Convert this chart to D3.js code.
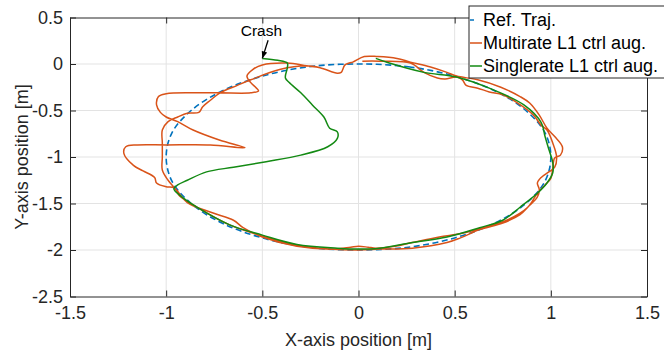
<!DOCTYPE html>
<html>
<head>
<meta charset="utf-8">
<script src="https://cdn.jsdelivr.net/npm/d3@7"></script>
<style>
  body { margin: 0; background: #fff; }
  svg { display: block; font-family: "Liberation Sans", Arial, sans-serif; }
  .tick text { fill: #262626; }
</style>
</head>
<body>
<svg id="chart" width="664" height="352"></svg>
<script>
// ---- data (metres) ----
const xTicks = [-1.5, -1, -0.5, 0, 0.5, 1, 1.5];
const yTicks = [0.5, 0, -0.5, -1, -1.5, -2, -2.5];
const seriesNames = ["Ref. Traj.", "Multirate L1 ctrl aug.", "Singlerate L1 ctrl aug."];
const seriesColors = ["#0072BD", "#D95319", "#138a13"];

// reference circle, clockwise from the top
const refX = [0, 0.26, 0.5, 0.71, 0.87, 0.97, 1, 0.97, 0.87, 0.71, 0.5, 0.26, 0,
  -0.26, -0.5, -0.71, -0.87, -0.97, -1, -0.97, -0.87, -0.71, -0.5, -0.26];
const refY = [0, -0.03, -0.13, -0.29, -0.5, -0.74, -1, -1.26, -1.5, -1.71, -1.87, -1.97, -2,
  -1.97, -1.87, -1.71, -1.5, -1.26, -1, -0.74, -0.5, -0.29, -0.13, -0.03];

// multirate run (two laps, wild on the left in lap 2)
const multiX = [0.02, 0.11, 0.27, 0.34, 0.41, 0.45, 0.51, 0.54, 0.56, 0.62, 0.68, 0.75, 0.82, 0.91, 0.95,
  0.98, 1.01, 1.03, 1.02, 0.99, 0.95, 0.93, 0.94, 0.93, 0.88,
  0.84, 0.75, 0.63, 0.53, 0.46, 0.28, 0.11, 0.0, -0.15, -0.32, -0.5, -0.67, -0.84, -0.93, -0.95,
  -0.99, -1.02, -1.02, -1.02, -1.02, -0.99, -0.94, -0.89, -0.83, -0.81, -0.77, -0.72, -0.63, -0.56, -0.41,
  -0.27, -0.2, -0.11, -0.09, -0.07, -0.03, 0.03, 0.1, 0.2,
  0.27, 0.37, 0.46, 0.51, 0.62, 0.74, 0.84, 0.89, 0.94,
  0.98, 1.02, 1.06, 1.05, 1.02, 1.01, 1.0, 0.97, 0.93, 0.88,
  0.77, 0.68, 0.54, 0.42, 0.28, 0.19, 0.09, 0.05, 0.0, -0.04, -0.12, -0.32, -0.5,
  -0.6, -0.65, -0.76, -0.89, -0.96, -1.0, -1.05, -1.06, -1.12, -1.17, -1.22, -1.21, -1.15, -1.0, -0.77, -0.59,
  -0.72, -0.86, -0.94, -1.0, -1.03, -1.05, -1.04, -1.0, -0.86, -0.72, -0.56, -0.52,
  -0.53, -0.56, -0.58, -0.55, -0.5, -0.37, -0.27, -0.2, -0.11, -0.09, -0.07, -0.03];
const multiY = [0.03, 0.03, 0.01, -0.09, -0.15, -0.16, -0.14, -0.17, -0.23, -0.26, -0.3, -0.33, -0.41, -0.55, -0.66,
  -0.71, -0.85, -1.0, -1.11, -1.16, -1.22, -1.28, -1.35, -1.43, -1.54,
  -1.62, -1.71, -1.78, -1.87, -1.92, -1.98, -1.99, -2.0, -1.99, -1.95, -1.85, -1.73, -1.54, -1.42, -1.35,
  -1.25, -1.14, -1.0, -0.85, -0.71, -0.62, -0.57, -0.53, -0.52, -0.46, -0.39, -0.31, -0.23, -0.17, -0.06,
  -0.02, -0.04, -0.1, -0.09, -0.01, 0.02, 0.08, 0.08, 0.06,
  0.02, -0.03, -0.09, -0.13, -0.17, -0.25, -0.35, -0.42, -0.55,
  -0.69, -0.78, -0.89, -0.98, -1.01, -1.12, -1.23, -1.3, -1.39, -1.54,
  -1.68, -1.74, -1.82, -1.86, -1.92, -1.96, -1.98, -1.97, -1.96, -1.97, -1.99, -1.96, -1.86,
  -1.76, -1.68, -1.6, -1.49, -1.33, -1.32, -1.28, -1.22, -1.15, -1.09, -0.96, -0.89, -0.87, -0.87, -0.87, -0.9,
  -0.82, -0.71, -0.62, -0.57, -0.52, -0.44, -0.35, -0.32, -0.31, -0.31, -0.31, -0.29,
  -0.26, -0.2, -0.13, -0.06, -0.01, 0.01, -0.02, -0.04, -0.1, -0.09, -0.01, 0.02];

// singlerate run, ends in the crash
const singleX = [0.09, 0.16, 0.34, 0.51, 0.68, 0.86, 0.95, 0.97, 0.99, 1.01, 1.01, 0.98, 0.93, 0.84, 0.75,
  0.63, 0.46, 0.28, 0.11, 0.0, -0.11, -0.32, -0.5, -0.67, -0.84, -0.93, -0.96,
  -0.94, -0.89, -0.79, -0.65, -0.48, -0.3, -0.16, -0.11, -0.11, -0.15, -0.18, -0.24, -0.3, -0.36, -0.38,
  -0.37, -0.37, -0.42, -0.5];
const singleY = [0.06, 0.01, -0.09, -0.14, -0.26, -0.44, -0.63, -0.78, -0.92, -1.06, -1.17, -1.28, -1.39, -1.54, -1.68,
  -1.76, -1.86, -1.92, -1.98, -1.99, -1.98, -1.94, -1.84, -1.73, -1.54, -1.41, -1.34,
  -1.3, -1.25, -1.16, -1.11, -1.05, -0.98, -0.89, -0.8, -0.73, -0.69, -0.57, -0.44, -0.31, -0.2, -0.15,
  -0.04, 0.01, 0.04, 0.06];

const crashText = { x: -0.505, y: 0.3, label: "Crash" };
const crashArrow = { x1: -0.47, y1: 0.255, x2: -0.5, y2: 0.06 };

// ---- layout ----
const svg = d3.select("#chart");
const mLeft = 70, mRight = 647, mTop = 17.5, mBottom = 296.5;
const x = d3.scaleLinear().domain([-1.5, 1.5]).range([mLeft, mRight]);
const y = d3.scaleLinear().domain([-2.5, 0.5]).range([mBottom, mTop]);
const axisColor = "#262626";

// grid
const grid = svg.append("g");
grid.selectAll(".gx").data(xTicks.slice(1, -1)).join("line")
  .attr("x1", d => x(d)).attr("x2", d => x(d)).attr("y1", mTop).attr("y2", mBottom)
  .attr("stroke", "#e3e3e3").attr("stroke-width", 1);
grid.selectAll(".gy").data(yTicks.slice(1, -1)).join("line")
  .attr("y1", d => y(d)).attr("y2", d => y(d)).attr("x1", mLeft).attr("x2", mRight)
  .attr("stroke", "#e3e3e3").attr("stroke-width", 1);

// series
const toPts = (xs, ys) => xs.map((v, i) => [v, ys[i]]);
const line = d3.line().x(d => x(d[0])).y(d => y(d[1])).curve(d3.curveCatmullRom.alpha(0.5));
const closedLine = d3.line().x(d => x(d[0])).y(d => y(d[1])).curve(d3.curveCatmullRomClosed.alpha(0.5));

const plot = svg.append("g");
plot.append("path").attr("d", closedLine(toPts(refX, refY)))
  .attr("fill", "none").attr("stroke", seriesColors[0]).attr("stroke-width", 1.6)
  .attr("stroke-dasharray", "6,3.5");
plot.append("path").attr("d", line(toPts(multiX, multiY)))
  .attr("fill", "none").attr("stroke", seriesColors[1]).attr("stroke-width", 1.5)
  .attr("stroke-linejoin", "round");
plot.append("path").attr("d", line(toPts(singleX, singleY)))
  .attr("fill", "none").attr("stroke", seriesColors[2]).attr("stroke-width", 1.5)
  .attr("stroke-linejoin", "round");

// axes (matlab style: box, ticks inside)
const fmt = d => d3.format("")(d).replace("−", "-");
const styleAxis = g => {
  g.select(".domain").attr("stroke", axisColor).attr("stroke-width", 1);
  g.selectAll(".tick line").attr("stroke", axisColor);
  g.selectAll(".tick text").style("font-size", "18px");
};
svg.append("g").attr("transform", `translate(0,${mBottom})`)
  .call(d3.axisBottom(x).tickValues(xTicks).tickFormat(fmt).tickSize(-6).tickSizeOuter(0).tickPadding(10))
  .call(styleAxis);
svg.append("g").attr("transform", `translate(0,${mTop})`)
  .call(d3.axisTop(x).tickValues(xTicks).tickFormat("").tickSize(-6).tickSizeOuter(0))
  .call(styleAxis);
svg.append("g").attr("transform", `translate(${mLeft},0)`)
  .call(d3.axisLeft(y).tickValues(yTicks).tickFormat(fmt).tickSize(-6).tickSizeOuter(0).tickPadding(7))
  .call(styleAxis);
svg.append("g").attr("transform", `translate(${mRight},0)`)
  .call(d3.axisRight(y).tickValues(yTicks).tickFormat("").tickSize(-6).tickSizeOuter(0))
  .call(styleAxis);

// axis labels
svg.append("text").attr("x", (mLeft + mRight) / 2).attr("y", 346)
  .attr("text-anchor", "middle").attr("fill", axisColor).style("font-size", "18px")
  .text("X-axis position [m]");
svg.append("text").attr("transform", `translate(28,${(mTop + mBottom) / 2}) rotate(-90)`)
  .attr("text-anchor", "middle").attr("fill", axisColor).style("font-size", "18px")
  .text("Y-axis position [m]");

// crash annotation
svg.append("defs").append("marker").attr("id", "head")
  .attr("viewBox", "0 0 10 10").attr("refX", 10).attr("refY", 5)
  .attr("markerWidth", 7).attr("markerHeight", 7).attr("orient", "auto")
  .attr("markerUnits", "userSpaceOnUse")
  .append("path").attr("d", "M0,1 L10,5 L0,9 Z").attr("fill", "#000");
svg.append("line")
  .attr("x1", x(crashArrow.x1)).attr("y1", y(crashArrow.y1))
  .attr("x2", x(crashArrow.x2)).attr("y2", y(crashArrow.y2))
  .attr("stroke", "#000").attr("stroke-width", 1.3).attr("marker-end", "url(#head)");
svg.append("text").attr("x", x(crashText.x)).attr("y", y(crashText.y))
  .attr("text-anchor", "middle").attr("fill", "#000").style("font-size", "15.5px")
  .text(crashText.label);

// legend
const lg = svg.append("g").attr("transform", "translate(469,6)");
lg.append("rect").attr("width", 220).attr("height", 72)
  .attr("fill", "#fff").attr("stroke", axisColor).attr("stroke-width", 1);
const rows = lg.selectAll(".row").data(seriesNames).join("g")
  .attr("transform", (d, i) => `translate(0,${14 + i * 23})`);
rows.append("line").attr("x1", 1).attr("x2", 13).attr("y1", 0).attr("y2", 0)
  .attr("stroke", (d, i) => seriesColors[i]).attr("stroke-width", 1.5)
  .attr("stroke-dasharray", (d, i) => i === 0 ? "4,9" : null);
rows.append("text").attr("x", 14).attr("y", 0).attr("dy", "0.35em")
  .attr("fill", "#000").style("font-size", "18px").text(d => d);
</script>
</body>
</html>
